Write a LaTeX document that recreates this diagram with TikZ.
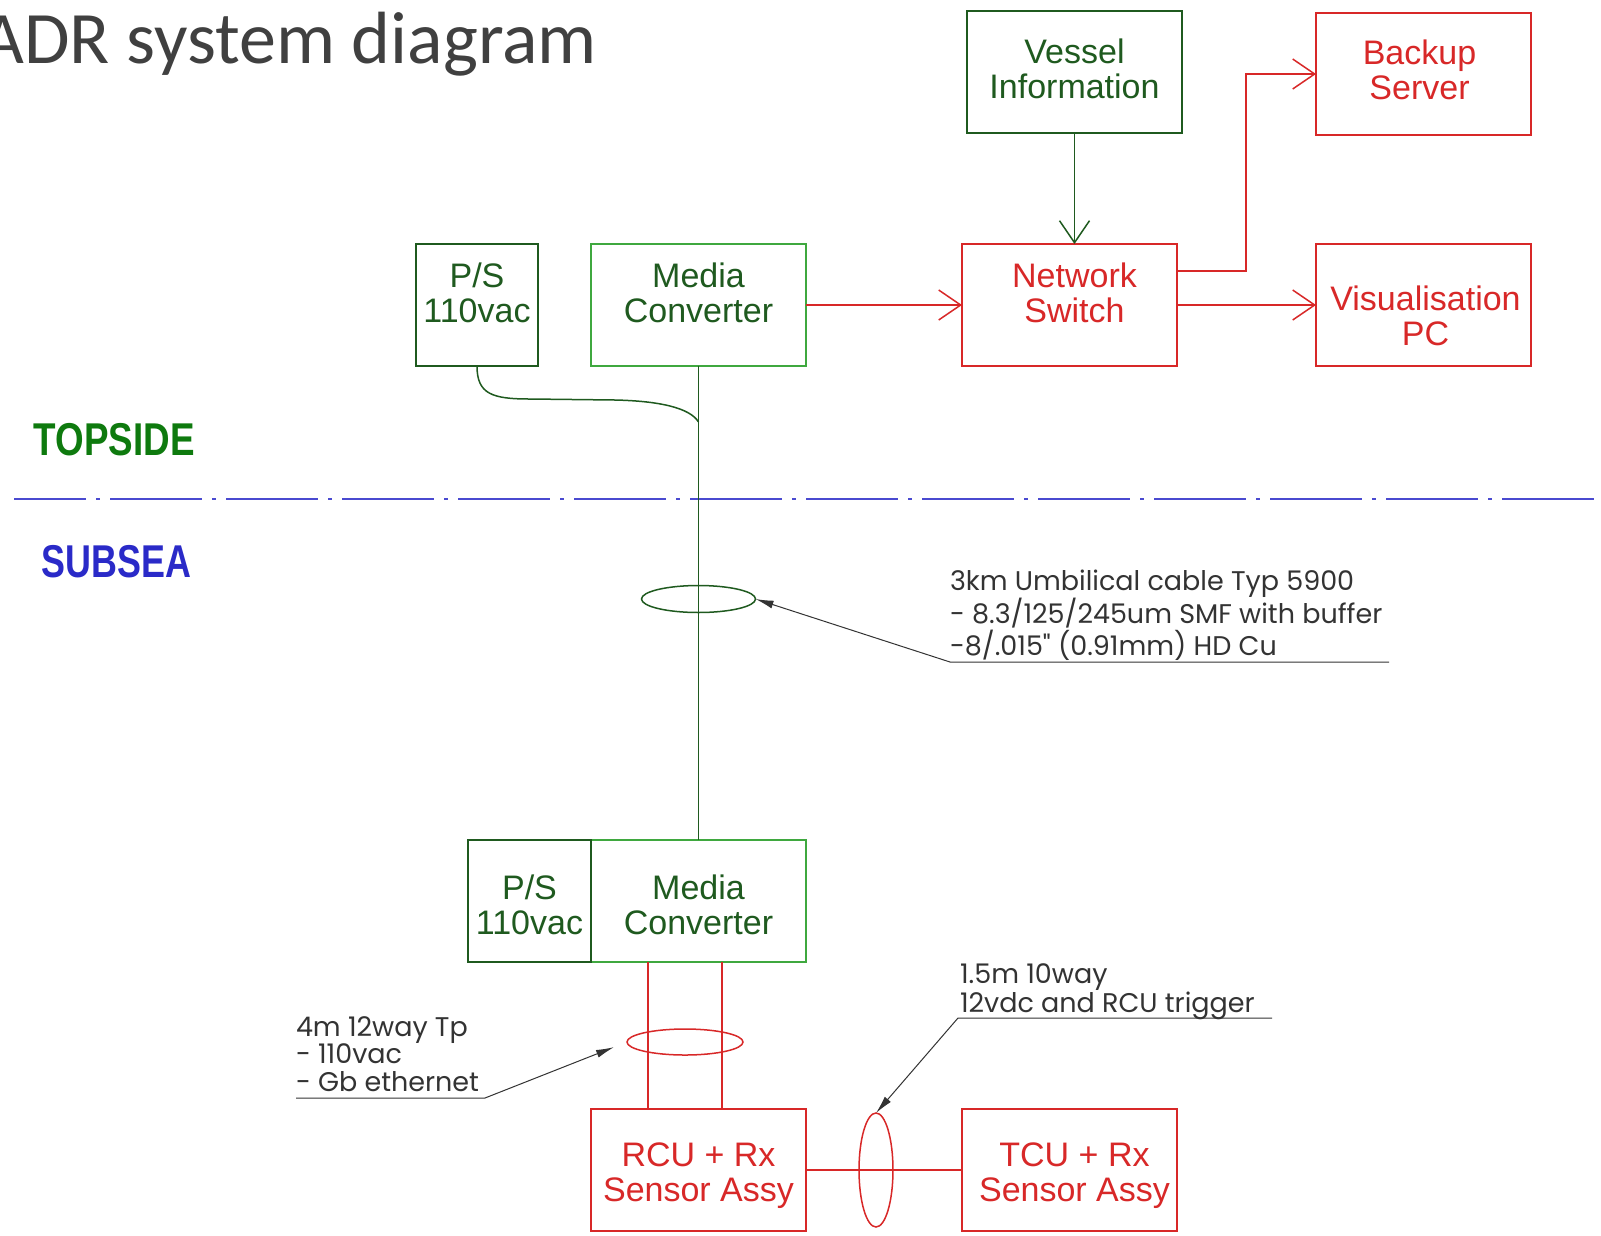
\documentclass[tikz,border=0pt]{standalone}
\usepackage{fontspec}
\setmainfont{Liberation Sans}
\newfontfamily\titlefont{Carlito}
\newfontfamily\notefont{Poppins}
\usetikzlibrary{positioning}
\usetikzlibrary{calc}
\usetikzlibrary{shapes.geometric}
\usetikzlibrary{arrows.meta}

\definecolor{dkgreen}{HTML}{1F5A1F}
\definecolor{ltgreen}{HTML}{3FA83F}
\definecolor{zonegreen}{HTML}{0E7A0E}
\definecolor{boxred}{HTML}{D82828}
\definecolor{seablue}{HTML}{2A2AC8}
\definecolor{titlegray}{HTML}{404040}

\begin{document}
\begin{tikzpicture}[x=1pt,y=-1pt,line width=1.5pt,
	>={Straight Barb[length=22pt,width=30pt,line width=1.5pt]}]
	\tikzset{
		unit/.style={draw,rectangle,inner sep=0pt,outer sep=0pt,minimum width=215pt,
			minimum height=122pt},
		psu/.style={unit,minimum width=122pt},
		gtag/.style={align=center,inner sep=0pt,text=dkgreen,font=\fontsize{34}{35}\selectfont},
		rtag/.style={gtag,text=boxred},
		note/.style={align=left,inner sep=0pt,outer sep=0pt,text=black!80,
			font=\notefont\fontsize{27}{27.5}\selectfont},
		lead/.style={draw=black!80,line width=1pt,-{Latex[length=18pt,width=8pt]}},
		bundle/.style={draw,ellipse,inner sep=0pt,outer sep=0pt}
	}
	\useasboundingbox[fill=white] (0,0) rectangle (1601,1235);
	
	\node[anchor=base east,text=titlegray,font=\titlefont\fontsize{74}{80}\selectfont] (title) at (601,63) {ADR system diagram};
	
	% topside units
	\node[unit,draw=ltgreen,label={[gtag,yshift=12pt]center:{Media\\Converter}}] (mct) at (698.5,305) {};
	\node[psu,draw=dkgreen,label={[gtag,yshift=12pt]center:{P/S\\110vac}}]  (pst) [left=53pt of mct] {};
	\node[unit,draw=boxred,label={[rtag,yshift=12pt,xshift=5pt]center:{Network\\Switch}}] (ns) [right=156pt of mct] {};
	\node[unit,draw=boxred,label={[rtag,yshift=-11pt,xshift=2pt]center:{Visualisation\\PC}}] (vis) [right=139pt of ns] {};
	\node[unit,draw=boxred,label={[rtag,yshift=4pt,xshift=-4pt]center:{Backup\\Server}}] (bak) [above=109pt of vis] {};
	\node[unit,draw=dkgreen,label={[gtag,yshift=3pt]center:{Vessel\\Information}}] (ves) [above=111pt of ns,xshift=5pt] {};
	
	% subsea units
	\node[unit,draw=ltgreen,label={[gtag,yshift=-4pt]center:{Media\\Converter}}] (mcb) [below=474pt of mct] {};
	\node[psu,draw=dkgreen,minimum width=123pt,label={[gtag,yshift=-4pt]center:{P/S\\110vac}}] (psb) [left=0pt of mcb] {};
	\node[unit,draw=boxred,label={[rtag,yshift=-6pt]center:{RCU + Rx\\Sensor Assy}}] (rcu) [below=147pt of mcb] {};
	\node[unit,draw=boxred,label={[rtag,yshift=-6pt,xshift=5pt]center:{TCU + Rx\\Sensor Assy}}] (tcu) [right=156pt of rcu] {};
	
	% data links topside
	\draw[boxred,->] (mct) -- (ns);
	\draw[boxred,->] (ns) -- (vis);
	\draw[boxred,->] ([yshift=34pt]ns.east) -| ++(69,0) |- (bak.west);
	\draw[dkgreen,->] (ves) -- (ves |- ns.north);
	
	% zones
	\node[anchor=west,inner sep=0pt,text=zonegreen,font=\bfseries\fontsize{46}{46}\selectfont] (topside) at (33,440) {\scalebox{0.8}[1]{TOPSIDE}};
	\node[anchor=west,inner sep=0pt,text=seablue,font=\bfseries\fontsize{46}{46}\selectfont] (subsea) at (41,562) {\scalebox{0.78}[1]{SUBSEA}};
	\coordinate (shore w) at (14,499);
	\coordinate (shore e) at (1601,499);
	\draw[seablue!85,line width=1.6pt,dash pattern=on 92pt off 10pt on 4pt off 10pt,dash phase=20pt] (shore w) -- (shore e);
	
	% umbilical
	\coordinate (jn) at (698.5,422);
	\draw[dkgreen] (mct.south) -- (mcb.north);
	\draw[dkgreen] (pst.south) .. controls (477,394) and (492,399) .. (530,399) -- (615,400) .. controls (660,401) and (690,408) .. (jn);
	\node[bundle,draw=dkgreen,minimum width=114pt,minimum height=27pt] (umb) at (698.5,599) {};
	
	% subsea wiring
	\coordinate (w1) at ($(mcb.south west)+(57,0)$);
	\coordinate (w2) at ($(mcb.south west)+(131,0)$);
	\draw[boxred] (w1) -- (w1 |- rcu.north);
	\draw[boxred] (w2) -- (w2 |- rcu.north);
	\node[bundle,draw=boxred,minimum width=116pt,minimum height=26pt] (tp) at (685,1042) {};
	\draw[boxred] (rcu) -- (tcu);
	\node[bundle,draw=boxred,minimum width=34pt,minimum height=114pt] (trig) at (876,1170) {};
	
	% cable notes (base = last line)
	\coordinate (u1w) at (950,662);
	\coordinate (u1e) at (1389,662);
	\node[note,anchor=base west] (note1) at (950,655) {3km Umbilical cable Typ 5900\\- 8.3/125/245um SMF with buffer\\-8/.015" (0.91mm) HD Cu};
	\draw[lead] (u1e) -- (u1w) -- (umb.east);
	
	\coordinate (u2w) at (296,1098);
	\coordinate (u2e) at (485,1098);
	\node[note,anchor=base west] (note2) at (296,1091) {4m 12way Tp\\- 110vac\\- Gb ethernet};
	\draw[lead,shorten >=14pt] (u2w) -- (u2e) -- (tp.west);
	
	\coordinate (u3w) at (958,1018);
	\coordinate (u3e) at (1272,1018);
	\node[note,anchor=base west] (note3) at (960,1012) {1.5m 10way\\12vdc and RCU trigger};
	\draw[lead] (u3e) -- (u3w) -- (trig.north);
\end{tikzpicture}
\end{document}
